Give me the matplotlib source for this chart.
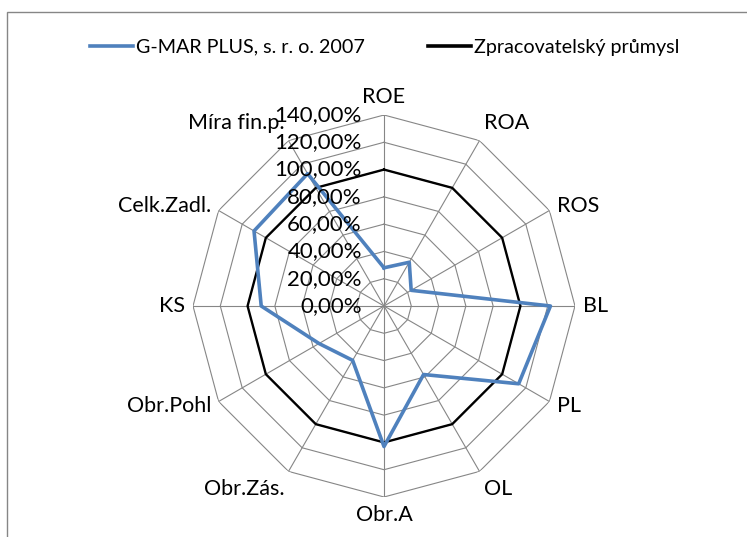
import numpy as np
import matplotlib
matplotlib.use('Agg')
import matplotlib.pyplot as plt
from matplotlib.lines import Line2D
from matplotlib.patches import Rectangle

plt.rcParams['font.family'] = ['Lato', 'DejaVu Sans']

categories = ['ROE', 'ROA', 'ROS', 'BL', 'PL', 'OL', 'Obr.A', 'Obr.Zás.',
              'Obr.Pohl', 'KS', 'Celk.Zadl.', 'Míra fin.p.']
firm_values = [28, 37, 23, 122, 114, 58, 103, 46, 55, 90, 110, 112]
industry_values = [100] * 12
tick_values = [0, 20, 40, 60, 80, 100, 120, 140]
tick_labels = [f"{v:.2f}".replace('.', ',') + '%' for v in tick_values]
firm_name = 'G-MAR PLUS, s. r. o. 2007'
industry_name = 'Zpracovatelský průmysl'

BLUE = '#4F81BD'
GRID = '#868686'

W, H = 747, 537
fig = plt.figure(figsize=(W / 100, H / 100), dpi=100)

# outer chart frame (continues past right/bottom edge like the source)
fig.patches.append(Rectangle((7 / W, -0.05), 1.1, (H - 12) / H + 0.05,
                             transform=fig.transFigure, fill=False,
                             edgecolor=GRID, lw=1.0))

cx, cy, R = 384, 306, 191
ax = fig.add_axes([(cx - R) / W, (H - cy - R) / H, 2 * R / W, 2 * R / H],
                  projection='polar')
ax.set_theta_zero_location('N')
ax.set_theta_direction(-1)
ax.set_ylim(0, 140)
ax.grid(False)
ax.spines['polar'].set_visible(False)
ax.set_xticks([])
ax.set_yticks([])
ax.patch.set_alpha(0)

n = len(categories)
angles = np.arange(n) * 2 * np.pi / n
closed = np.append(angles, angles[0])

# polygon grid and spokes
for v in tick_values[1:]:
    ax.plot(closed, [v] * (n + 1), color=GRID, lw=0.8, zorder=1)
for a in angles:
    ax.plot([a, a], [0, 140], color=GRID, lw=0.8, zorder=1)

ax.plot(closed, industry_values + industry_values[:1], color='black', lw=1.7,
        zorder=3)
ax.plot(closed, firm_values + firm_values[:1], color=BLUE, lw=2.6, zorder=4)

# value labels along the first axis
for v, lab in zip(tick_values, tick_labels):
    ax.annotate(lab, xy=(0, v), xytext=(-16, 0), textcoords='offset points',
                ha='right', va='center', fontsize=16, color='black',
                zorder=5)

# category labels
for a, lab in zip(angles, categories):
    s, c = np.sin(a), np.cos(a)
    ha = 'left' if s > 0.1 else ('right' if s < -0.1 else 'center')
    va = 'bottom' if c > 0.8 else ('top' if c < -0.8 else 'center')
    ax.annotate(lab, xy=(a, 140), xytext=(6 * s, 6 * c),
                textcoords='offset points', ha=ha, va=va, fontsize=15.5,
                color='black')

handles = [Line2D([], [], color=BLUE, lw=2.6),
           Line2D([], [], color='black', lw=2.6)]
fig.legend(handles, [firm_name, industry_name], loc='center',
           bbox_to_anchor=(0.515, 1 - 47 / H), ncol=2, frameon=False,
           fontsize=14.2, handlelength=2.2, handletextpad=0.15,
           columnspacing=3.2)

fig.savefig('out.png', dpi=100, facecolor='white')
